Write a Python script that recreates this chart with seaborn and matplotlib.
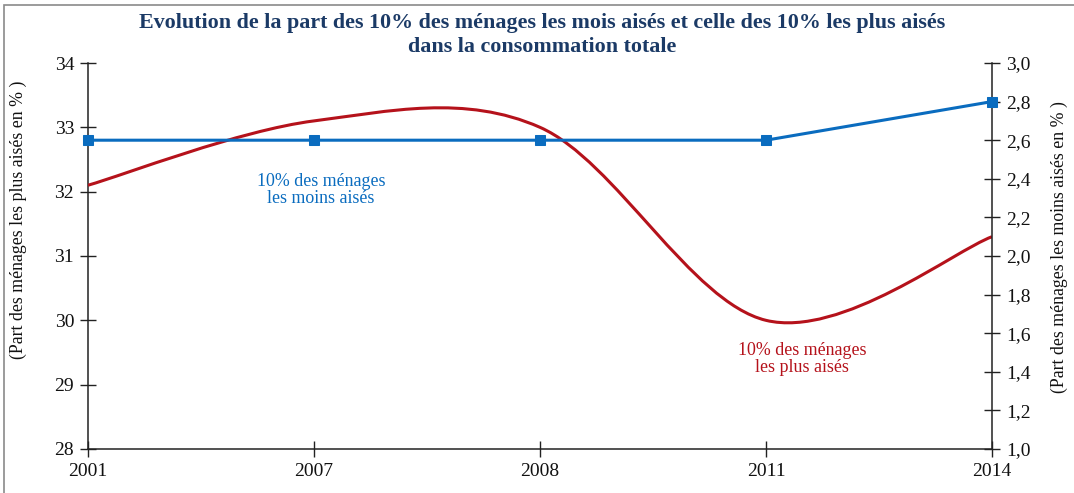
import matplotlib
matplotlib.use("Agg")
import matplotlib.pyplot as plt
from matplotlib.path import Path
from matplotlib.patches import PathPatch, Rectangle
from matplotlib.ticker import FixedLocator
import seaborn as sns
import pandas as pd

# Data
years = ["2001", "2007", "2008", "2011", "2014"]
part_plus_aises = [32.1, 33.1, 33.0, 30.0, 31.3]    # left axis (%)
part_moins_aises = [2.6, 2.6, 2.6, 2.6, 2.8]        # right axis (%)
left_ticks = [28, 29, 30, 31, 32, 33, 34]
right_ticks = [1.0, 1.2, 1.4, 1.6, 1.8, 2.0, 2.2, 2.4, 2.6, 2.8, 3.0]

sns.set_theme(style="white")
plt.rcParams["font.family"] = ["Liberation Serif", "DejaVu Serif"]

RED = "#B5121B"
BLUE = "#0A6CBF"
NAVY = "#1B3A66"

fig = plt.figure(figsize=(10.74, 4.93), dpi=100)
ax = fig.add_axes([88 / 1074, 1 - 449 / 493, (992 - 88) / 1074, (449 - 63) / 493])
ax2 = ax.twinx()

x = list(range(len(years)))
df = pd.DataFrame({"x": x, "plus": part_plus_aises, "moins": part_moins_aises})


def smooth_path(xs, ys):
    """Smoothed line through the points (cubic Bezier, Catmull-Rom tangents)."""
    verts = [(xs[0], ys[0])]
    codes = [Path.MOVETO]
    n = len(xs)
    for i in range(n - 1):
        p0 = (xs[i - 1], ys[i - 1]) if i > 0 else (xs[i], ys[i])
        p1 = (xs[i], ys[i])
        p2 = (xs[i + 1], ys[i + 1])
        p3 = (xs[i + 2], ys[i + 2]) if i + 2 < n else (xs[i + 1], ys[i + 1])
        c1 = (p1[0] + (p2[0] - p0[0]) / 6, p1[1] + (p2[1] - p0[1]) / 6)
        c2 = (p2[0] - (p3[0] - p1[0]) / 6, p2[1] - (p3[1] - p1[1]) / 6)
        verts += [c1, c2, p2]
        codes += [Path.CURVE4] * 3
    return Path(verts, codes)


ax.add_patch(PathPatch(smooth_path(df["x"].tolist(), df["plus"].tolist()),
                       facecolor="none", edgecolor=RED, lw=2.2, zorder=3))

sns.lineplot(data=df, x="x", y="moins", ax=ax2, color=BLUE, lw=2.2,
             marker="s", markersize=7, markeredgecolor=BLUE, zorder=4)
for line in ax2.lines:
    line.set_clip_on(False)

ax.set_xlim(0, len(years) - 1)
ax.set_ylim(28, 34)
ax2.set_ylim(1.0, 3.0)
ax.xaxis.set_major_locator(FixedLocator(x))
ax.set_xticklabels(years)
ax.yaxis.set_major_locator(FixedLocator(left_ticks))
ax.set_yticklabels([str(t) for t in left_ticks])
ax2.yaxis.set_major_locator(FixedLocator(right_ticks))
ax2.set_yticklabels([f"{t:.1f}".replace(".", ",") for t in right_ticks])
ax2.set_xlabel("")

for a in (ax, ax2):
    a.grid(False)
    for s in a.spines.values():
        s.set_visible(False)
    a.patch.set_alpha(0)

ax.spines["left"].set_visible(True)
ax.spines["bottom"].set_visible(True)
ax2.spines["right"].set_visible(True)
for s in (ax.spines["left"], ax.spines["bottom"], ax2.spines["right"]):
    s.set_color("#222222")
    s.set_linewidth(1.1)

ax.tick_params(axis="both", direction="inout", length=12, width=1, color="#222222",
               labelsize=14, labelcolor="#111111", left=True, bottom=True, pad=4)
ax2.tick_params(axis="y", direction="inout", length=12, width=1, color="#222222",
                labelsize=14, labelcolor="#111111", right=True, pad=4)

ax.set_ylabel("(Part des ménages les plus aisés en % )", fontsize=12.8,
              color="#111111", va="center")
ax2.set_ylabel("(Part des ménages les moins aisés en % )", fontsize=12.8,
               color="#111111", va="center")
ax.yaxis.set_label_coords(-0.077, 0.593)
ax2.yaxis.set_label_coords(1.075, 0.523)
ax.set_xlabel("")

fig.text(0.505, 1 - 35 / 493,
         "Evolution de la part des 10% des ménages les mois aisés et celle des 10% les plus aisés\n"
         "dans la consommation totale",
         ha="center", va="center", fontsize=15.8, fontweight="bold", color=NAVY,
         linespacing=1.3)

ax2.text(1.03, 2.34, "10% des ménages\nles moins aisés", ha="center", va="center",
         fontsize=12.9, color=BLUE, linespacing=1.0)
ax.text(3.16, 29.4, "10% des ménages\nles plus aisés", ha="center", va="center",
        fontsize=12.9, color=RED, linespacing=1.0)

# Outer frame
fig.patches.append(Rectangle((4 / 1074, -0.01), 1.2, 1 - 5 / 493 + 0.01,
                             transform=fig.transFigure, fill=False,
                             edgecolor="#8a8a8a", lw=1.2))

fig.savefig("out.png", dpi=100)
